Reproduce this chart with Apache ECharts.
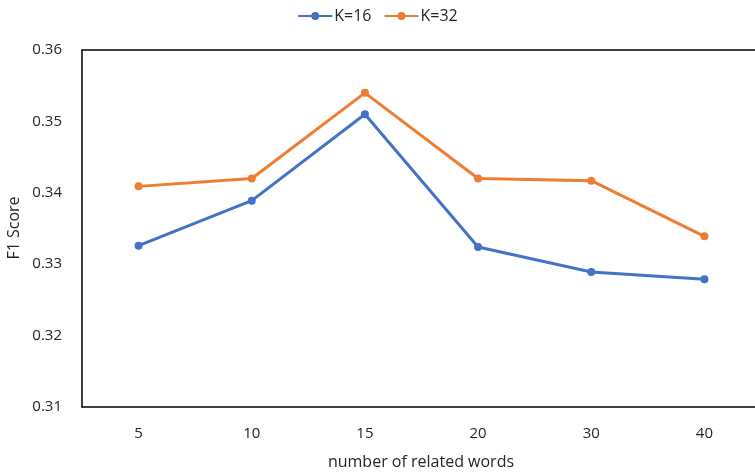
<!DOCTYPE html>
<html>
<head>
<meta charset="utf-8">
<script src="https://cdn.jsdelivr.net/npm/echarts@6/dist/echarts.min.js"></script>
<style>
  html, body { margin: 0; padding: 0; background: #fff; }
  #chart { width: 755px; height: 473px; }
</style>
</head>
<body>
<div id="chart"></div>
<script>
// Number of related words (x categories)
const categories = ['5', '10', '15', '20', '30', '40'];
// F1 scores for each K setting
const k16 = [0.3326, 0.3389, 0.3510, 0.3324, 0.3289, 0.3279];
const k32 = [0.3409, 0.3420, 0.3540, 0.3420, 0.3417, 0.3339];
const seriesNames = ['K=16', 'K=32'];
const xTitle = 'number of related words';
const yTitle = 'F1 Score';

const FONT = '"Open Sans", "Noto Sans", sans-serif';
const TEXT = '#262626';
const frameLine = () => ({ show: true, lineStyle: { color: '#000', width: 1.5 } });

const chart = echarts.init(document.getElementById('chart'), null, { renderer: 'canvas' });
chart.setOption({
  animation: false,
  textStyle: { fontFamily: FONT },
  legend: {
    top: 3,
    left: 'center',
    itemWidth: 34,
    itemHeight: 10,
    itemGap: 12,
    textStyle: { fontFamily: FONT, fontSize: 16, color: TEXT, padding: [0, 0, 0, -3] },
    data: seriesNames
  },
  // axis titles
  graphic: [
    {
      type: 'text', x: 421, y: 462,
      style: { text: xTitle, font: '16px ' + FONT, fill: TEXT,
        align: 'center', verticalAlign: 'middle', textAlign: 'center', textVerticalAlign: 'middle' }
    },
    {
      type: 'text', x: 14, y: 228, rotation: Math.PI / 2,
      style: { text: yTitle, font: '16px ' + FONT, fill: TEXT,
        align: 'center', verticalAlign: 'middle', textAlign: 'center', textVerticalAlign: 'middle' }
    }
  ],
  grid: {
    left: 82, top: 50, width: 679, height: 357,
    containLabel: false,
    outerBoundsMode: 'none',
    show: false
  },
  xAxis: [
    {
      type: 'category',
      data: categories,
      position: 'bottom',
      axisLine: frameLine(),
      axisTick: { show: false },
      axisLabel: { fontFamily: FONT, fontSize: 15, color: TEXT, margin: 19 }
    },
    {
      // top edge of the plot frame
      type: 'category',
      data: categories,
      position: 'top',
      axisLine: frameLine(),
      axisTick: { show: false },
      axisLabel: { show: false }
    }
  ],
  yAxis: {
    type: 'value',
    min: 0.31, max: 0.36, interval: 0.01,
    splitLine: { show: false },
    axisLine: frameLine(),
    axisTick: { show: false },
    axisLabel: { fontFamily: FONT, fontSize: 15, color: TEXT, margin: 20,
      formatter: v => v.toFixed(2) }
  },
  series: [
    {
      name: seriesNames[0], type: 'line', data: k16,
      symbol: 'circle', symbolSize: 8,
      lineStyle: { width: 3, color: '#4472C4' },
      itemStyle: { color: '#4472C4' }
    },
    {
      name: seriesNames[1], type: 'line', data: k32,
      symbol: 'circle', symbolSize: 8,
      lineStyle: { width: 3, color: '#ED7D31' },
      itemStyle: { color: '#ED7D31' }
    }
  ]
});
</script>
</body>
</html>
